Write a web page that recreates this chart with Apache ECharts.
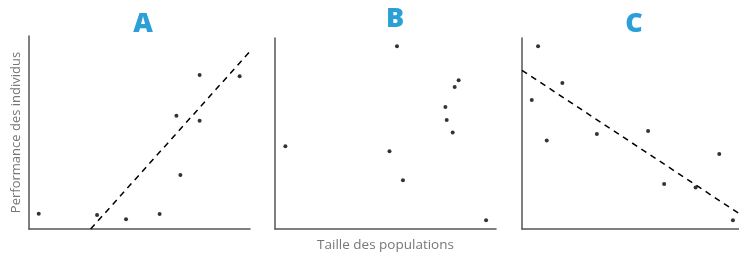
<!DOCTYPE html>
<html>
<head>
<meta charset="utf-8">
<script src="https://cdn.jsdelivr.net/npm/echarts@6/dist/echarts.min.js"></script>
<style>
html,body{margin:0;padding:0;background:#fff;}
#chart{width:739px;height:254px;}
</style>
</head>
<body>
<div id="chart"></div>
<script>
// Panel titles
var panelTitles = ['A', 'B', 'C'];
var yAxisLabel = 'Performance des individus';
var xAxisLabel = 'Taille des populations';

// Panel A points [x, y] (axis units 0-100)
var pointsA = [[4.4, 7.9], [30.8, 7.3], [43.9, 5.0], [59.1, 7.8], [66.7, 58.7], [68.5, 28.0], [77.2, 79.8], [77.2, 56.1], [95.3, 79.1]];
var trendA = [[27.9, 0], [100, 92]];

// Panel B points
var pointsB = [[4.7, 43.3], [51.8, 40.7], [55.2, 95.7], [57.9, 25.5], [77.1, 63.9], [77.7, 57.1], [80.4, 50.5], [81.3, 74.3], [83.1, 77.9], [95.5, 4.6]];

// Panel C points
var pointsC = [[7.4, 95.7], [4.5, 67.5], [11.4, 46.4], [18.6, 76.4], [34.5, 49.7], [58.1, 51.3], [65.5, 23.6], [80.0, 21.7], [90.9, 39.3], [97.2, 4.6]];
var trendC = [[0, 83.1], [100, 8.1]];

var chart = echarts.init(document.getElementById('chart'));

var grids = [
  {left: 29, top: 36, width: 221, height: 193, outerBoundsMode: 'none', containLabel: false},
  {left: 275, top: 38, width: 221, height: 191, outerBoundsMode: 'none', containLabel: false},
  {left: 522, top: 38, width: 217, height: 191, outerBoundsMode: 'none', containLabel: false}
];

function xAx(i, name) {
  return {
    type: 'value', gridIndex: i, min: 0, max: 100,
    axisLine: {show: true, onZero: false, lineStyle: {color: '#555', width: 1.5}},
    axisTick: {show: false}, axisLabel: {show: false}, splitLine: {show: false},
    name: name || '', nameLocation: 'middle', nameGap: 9,
    nameTextStyle: {color: '#777', fontSize: 13.5, fontFamily: 'Open Sans'}
  };
}
function yAx(i, name) {
  return {
    type: 'value', gridIndex: i, min: 0, max: 100,
    axisLine: {show: true, onZero: false, lineStyle: {color: '#555', width: 1.5}},
    axisTick: {show: false}, axisLabel: {show: false}, splitLine: {show: false},
    name: name || '', nameLocation: 'middle', nameGap: 6,
    nameTextStyle: {color: '#777', fontSize: 13, fontFamily: 'Open Sans'}
  };
}

var dotStyle = {color: '#000'};
function scatter(i, data) {
  return {type: 'scatter', xAxisIndex: i, yAxisIndex: i, data: data, symbolSize: 4, itemStyle: dotStyle, silent: true};
}
function trend(i, data) {
  return {type: 'line', xAxisIndex: i, yAxisIndex: i, data: data, symbol: 'none', silent: true,
    lineStyle: {color: '#000', width: 1.5, type: [6, 5]}};
}

var titleCenters = [[143, 24], [395, 19], [634, 24]];

chart.setOption({
  animation: false,
  backgroundColor: '#fff',
  grid: grids,
  xAxis: [xAx(0), xAx(1, xAxisLabel), xAx(2)],
  yAxis: [yAx(0, yAxisLabel), yAx(1), yAx(2)],
  graphic: panelTitles.map(function (t, i) {
    return {
      type: 'text', x: titleCenters[i][0], y: titleCenters[i][1],
      style: {text: t, textAlign: 'center', textVerticalAlign: 'middle',
        fill: '#2a9fd8', font: '800 27px "Open Sans"'}
    };
  }),
  series: [
    scatter(0, pointsA), trend(0, trendA),
    scatter(1, pointsB),
    scatter(2, pointsC), trend(2, trendC)
  ]
});
</script>
</body>
</html>
